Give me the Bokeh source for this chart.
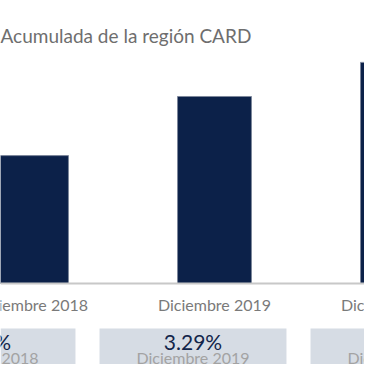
from bokeh.plotting import figure
from bokeh.layouts import column
from bokeh.models import Range1d, ColumnDataSource, Span
from bokeh.core.properties import value
from bokeh.embed import file_html
from bokeh.resources import INLINE

# --- data ---
categories = ["Diciembre 2018", "Diciembre 2019", "Diciembre 2020"]
bar_values = [2.25, 3.29, 3.89]
box_values = ["2.25%", "3.29%", "3.89%"]
box_labels = ["Diciembre 2018", "Diciembre 2019", "Diciembre 2020"]
title_text = "Acumulada de la región CARD"

FONT = "Lato"
NAVY = "#0c2149"

idx = list(range(len(categories)))

# --- bar chart ---
p = figure(width=364, height=320, output_backend="svg", toolbar_location=None,
           x_range=Range1d(-0.1694, 1.8197), y_range=Range1d(-0.651, 4.099),
           min_border_left=0, min_border_right=0, min_border_top=50,
           min_border_bottom=0)
bsrc = ColumnDataSource(dict(x=idx, top=bar_values, cat=categories,
                             ly=[-0.37] * len(idx)))
p.vbar(x="x", top="top", width=0.404, source=bsrc, fill_color=NAVY,
       line_color="#7d879b", line_width=1)
p.add_layout(Span(location=0, dimension="width", line_color="#c8c8c8",
                  line_width=2))
p.text(x="x", y="ly", text="cat", source=bsrc, text_align="center",
       text_baseline="middle", text_font=value(FONT),
       text_font_size="16px", text_color="#7a7a7a")
p.title.text = title_text
p.title.align = "left"
p.title.text_font = FONT
p.title.text_font_style = "normal"
p.title.text_font_size = "19px"
p.title.text_color = "#6e6e6e"
p.title.offset = 0
p.title.standoff = 7
p.xaxis.visible = False
p.yaxis.visible = False
p.xgrid.visible = False
p.ygrid.visible = False
p.outline_line_color = None

# --- summary boxes ---
q = figure(width=364, height=44, output_backend="svg", toolbar_location=None,
           x_range=Range1d(0.0877, 1.8128), y_range=Range1d(44, 0),
           min_border=0)
src = ColumnDataSource(dict(x=idx, v=box_values, l=box_labels))
q.vbar(x="x", top=8, bottom=60, width=0.886, source=src,
       fill_color="#d6dce4", line_color=None)
q.text(x="x", y=21, text="v", source=src, text_align="center",
       text_baseline="middle", text_font=value(FONT),
       text_font_size="21px", text_color="#12254a")
q.text(x="x", y=37, text="l", source=src, text_align="center",
       text_baseline="middle", text_font=value(FONT),
       text_font_size="16px", text_color="#a3a3a3")
q.xaxis.visible = False
q.yaxis.visible = False
q.xgrid.visible = False
q.ygrid.visible = False
q.outline_line_color = None

layout = column(p, q, spacing=0)
open("out.html", "w").write(file_html(layout, INLINE))
